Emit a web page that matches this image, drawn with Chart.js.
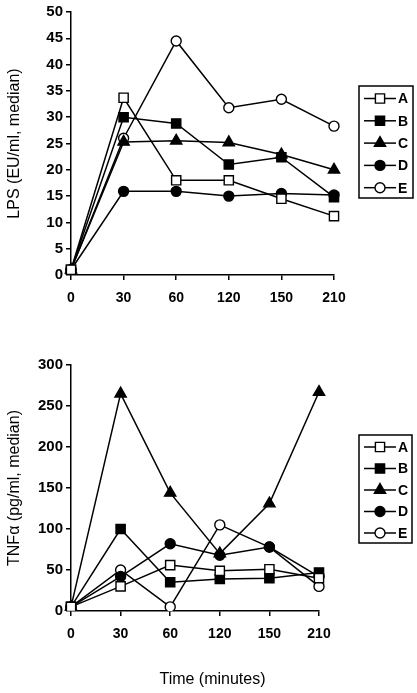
<!DOCTYPE html>
<html>
<head>
<meta charset="utf-8">
<script src="https://cdn.jsdelivr.net/npm/chart.js"></script>
<style>
  html, body { margin: 0; padding: 0; background: #fff; }
  body { width: 417px; height: 693px; position: relative; overflow: hidden; font-family: "Liberation Sans", Arial, sans-serif; }
  #top-wrap { position: absolute; left: 0; top: 0; }
  #bottom-wrap { position: absolute; left: 0; top: 340px; }
  #time-title { position: absolute; left: 0; width: 425px; top: 670px; text-align: center; font-size: 16px; color: #000; }
</style>
</head>
<body>
<div id="top-wrap"><canvas id="lps-chart" width="417" height="310"></canvas></div>
<div id="bottom-wrap"><canvas id="tnf-chart" width="417" height="353"></canvas></div>
<div id="time-title">Time (minutes)</div>
<script>
// --- Data ---
const times = ['0', '30', '60', '120', '150', '210'];
const seriesNames = ['A', 'B', 'C', 'D', 'E'];

// LPS (EU/ml, median)
const lpsA = [1, 33.7, 18, 18, 14.5, 11.2];
const lpsB = [1, 30, 28.8, 21, 22.4, 14.8];
const lpsC = [1, 25.3, 25.5, 25.2, 22.9, 20];
const lpsD = [1, 15.9, 15.9, 15, 15.5, 15.2];
const lpsE = [1, 26, 44.5, 31.8, 33.4, 28.3];
const lpsTicks = [0, 5, 10, 15, 20, 25, 30, 35, 40, 45, 50];

// TNFa (pg/ml, median)
const tnfA = [5, 30, 56, 49, 51, 40];
const tnfB = [5, 100, 35, 39, 40, 47];
const tnfC = [5, 265, 144, 70, 131, 267];
const tnfD = [5, 42, 82, 68, 78, 42];
const tnfE = [5, 50, 5, 105, 78, 30];
const tnfTicks = [0, 50, 100, 150, 200, 250, 300];

// --- Styles ---
Chart.defaults.font.family = '"Liberation Sans", Arial, sans-serif';
Chart.defaults.color = '#000';

const markers = {
  A: { style: 'rect', fill: '#fff', r: 6.5 },
  B: { style: 'rect', fill: '#000', r: 6.5 },
  C: { style: 'triangle', fill: '#000', r: 6.5 },
  D: { style: 'circle', fill: '#000', r: 5 },
  E: { style: 'circle', fill: '#fff', r: 5 },
};

function makeDatasets(arrs) {
  return arrs.map((data, i) => {
    const m = markers[seriesNames[i]];
    return {
      label: seriesNames[i],
      data: data,
      borderColor: '#000',
      borderWidth: 1.5,
      pointStyle: m.style,
      pointRadius: m.r,
      pointBackgroundColor: m.fill,
      pointBorderColor: '#000',
      pointBorderWidth: 1.4,
      tension: 0,
      fill: false,
    };
  });
}

// Boxed legend with a line through each marker
const boxLegend = {
  id: 'boxLegend',
  afterDraw(chart, args, opts) {
    const ctx = chart.ctx;
    ctx.save();
    ctx.strokeStyle = '#000';
    ctx.lineWidth = 1.5;
    ctx.strokeRect(opts.x, opts.y, opts.w, opts.h);
    chart.data.datasets.forEach((ds, i) => {
      const y = opts.firstRow + i * opts.rowGap;
      const lx = opts.x + 5;
      const mx = lx + 16;
      ctx.lineWidth = 1.5;
      ctx.strokeStyle = '#000';
      ctx.beginPath();
      ctx.moveTo(lx, y);
      ctx.lineTo(lx + 32, y);
      ctx.stroke();
      ctx.fillStyle = ds.pointBackgroundColor;
      ctx.lineWidth = 1.4;
      Chart.helpers.drawPoint(ctx, {
        pointStyle: ds.pointStyle, radius: ds.pointRadius, rotation: 0, borderWidth: 1.4
      }, mx, y);
      ctx.fillStyle = '#000';
      ctx.font = 'bold 14px "Liberation Sans", Arial, sans-serif';
      ctx.textBaseline = 'middle';
      ctx.textAlign = 'left';
      ctx.fillText(ds.label, lx + 34, y + 1);
    });
    ctx.restore();
  }
};

function axisStyle(extra) {
  return Object.assign({
    border: { display: true, color: '#000', width: 1.5 },
    grid: { display: true, drawOnChartArea: false, drawTicks: true, tickLength: 5, color: '#000', lineWidth: 1.5 },
  }, extra);
}

function makeChart(id, datasets, yMax, yStep, yTicks, yTitle, pad, xHeight, legendBox) {
  return new Chart(document.getElementById(id).getContext('2d'), {
    type: 'line',
    data: { labels: times, datasets: datasets },
    options: {
      responsive: false,
      animation: false,
      layout: { padding: pad },
      plugins: { legend: { display: false }, tooltip: { enabled: false }, boxLegend: legendBox },
      scales: {
        x: axisStyle({
          type: 'category',
          offset: false,
          ticks: { font: { size: 14, weight: 'bold' }, padding: 10, maxRotation: 0, autoSkip: false },
          afterFit: s => { s.height = xHeight; },
        }),
        y: axisStyle({
          min: 0, max: yMax,
          afterBuildTicks: s => { s.ticks = yTicks.map(v => ({ value: v })); },
          ticks: { stepSize: yStep, font: { size: 15, weight: 'bold' }, padding: 3 },
          title: { display: true, text: yTitle, font: { size: 16 }, padding: { top: 5, bottom: 0 } },
          afterFit: s => { s.width = 71; },
        }),
      },
    },
    plugins: [boxLegend],
  });
}

makeChart('lps-chart', makeDatasets([lpsA, lpsB, lpsC, lpsD, lpsE]), 50, 5, lpsTicks,
  'LPS (EU/ml, median)', { top: 9, right: 83, left: 0, bottom: 0 }, 35,
  { x: 359, y: 86, w: 54, h: 112, firstRow: 98.5, rowGap: 22.3 });

makeChart('tnf-chart', makeDatasets([tnfA, tnfB, tnfC, tnfD, tnfE]), 300, 50, tnfTicks,
  'TNFα (pg/ml, median)', { top: 25, right: 98, left: 0, bottom: 0 }, 82,
  { x: 359, y: 95, w: 53, h: 108, firstRow: 107, rowGap: 21.5 });
</script>
</body>
</html>
